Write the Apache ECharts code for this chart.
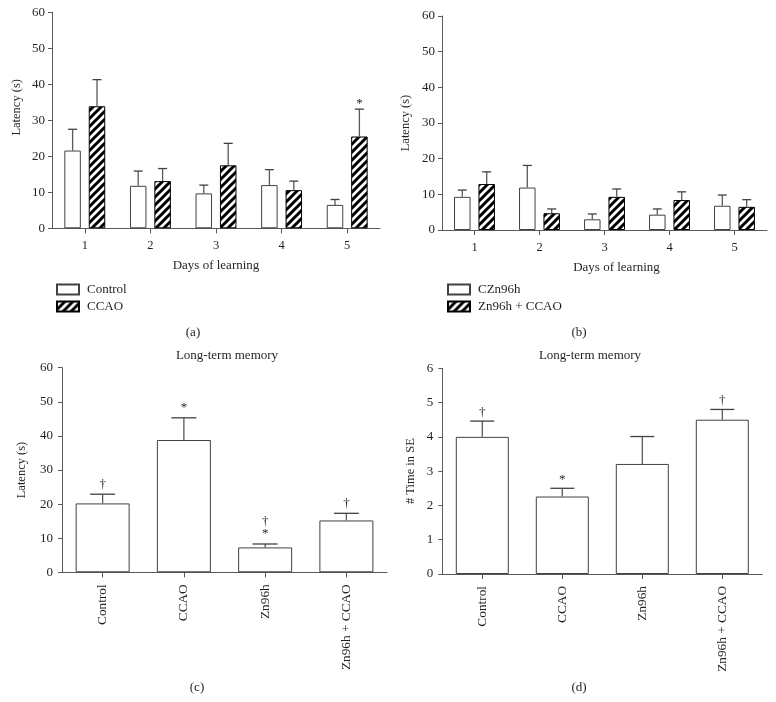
<!DOCTYPE html>
<html>
<head>
<meta charset="utf-8">
<script src="https://cdn.jsdelivr.net/npm/echarts@6/dist/echarts.min.js"></script>
<style>html,body{margin:0;padding:0;background:#fff;}#c{width:776px;height:702px;}</style>
</head>
<body>
<div id="c"></div>
<script>
// ---- data ----
const days = ['1', '2', '3', '4', '5'];
const controlA = [21.6, 11.8, 9.7, 12.0, 6.5];
const controlAErr = [5.9, 4.1, 2.3, 4.3, 1.5];
const ccaoA = [33.9, 13.1, 17.5, 10.6, 25.5];
const ccaoAErr = [7.4, 3.5, 6.1, 2.5, 7.6];
const ccaoAMarks = ['', '', '', '', '*'];

const cznB = [9.3, 11.9, 3.0, 4.3, 6.8];
const cznBErr = [1.9, 6.2, 1.5, 1.6, 3.0];
const znCcaoB = [12.9, 4.7, 9.3, 8.4, 6.5];
const znCcaoBErr = [3.4, 1.2, 2.2, 2.3, 2.0];

const groups = ['Control', 'CCAO', 'Zn96h', 'Zn96h + CCAO'];
const latencyC = [20.2, 38.8, 7.3, 15.2];
const latencyCErr = [2.7, 6.5, 1.0, 2.1];
const marksC = ['†', '*', '†\n*', '†'];
const timeD = [4.0, 2.26, 3.21, 4.5];
const timeDErr = [0.46, 0.24, 0.8, 0.3];
const marksD = ['†', '*', '', '†'];

const latencyTicks = [0, 10, 20, 30, 40, 50, 60];
const timeTicks = [0, 1, 2, 3, 4, 5, 6];

// ---- style ----
const FONT = 'Liberation Serif';
const TXT = '#231f20';
const AX = '#58595b';

function hatchCanvas() {
  const c = document.createElement('canvas');
  c.width = 8; c.height = 8;
  const g = c.getContext('2d');
  g.fillStyle = '#fff'; g.fillRect(0, 0, 8, 8);
  g.strokeStyle = '#000'; g.lineWidth = 3;
  g.beginPath();
  g.moveTo(-2, 10); g.lineTo(10, -2);
  g.moveTo(-2, 2); g.lineTo(2, -2);
  g.moveTo(6, 10); g.lineTo(10, 6);
  g.stroke();
  return c;
}
const hatch = { image: hatchCanvas(), repeat: 'repeat' };

const plainStyle = { color: '#fff', borderColor: '#414042', borderWidth: 1 };
const hatchStyle = { color: hatch, borderColor: '#000', borderWidth: 1 };

function yAxis(gi, ticks, name, nameGap, namePad, labelMargin) {
  return {
    type: 'value', gridIndex: gi, min: ticks[0], max: ticks[ticks.length - 1],
    interval: ticks[1] - ticks[0],
    name: name, nameLocation: 'middle', nameGap: nameGap,
    nameTextStyle: { fontFamily: FONT, fontSize: 12.5, color: TXT, padding: namePad || 0 },
    axisLine: { show: true, lineStyle: { color: AX, width: 1 } },
    axisTick: { show: true, length: 4, lineStyle: { color: AX } },
    splitLine: { show: false },
    axisLabel: { fontFamily: FONT, fontSize: 13, color: TXT, margin: labelMargin }
  };
}
function xAxis(gi, cats, name, rotate, namePad) {
  return {
    type: 'category', gridIndex: gi, data: cats,
    name: name, nameLocation: 'middle', nameGap: 31,
    nameTextStyle: { fontFamily: FONT, fontSize: 13, color: TXT, padding: namePad || 0 },
    axisLine: { show: true, lineStyle: { color: AX, width: 1 } },
    axisTick: { show: true, alignWithLabel: true, length: 5, lineStyle: { color: AX } },
    axisLabel: { fontFamily: FONT, fontSize: rotate ? 13.3 : 12.5, color: TXT, margin: rotate ? 12 : 11, rotate: rotate || 0 }
  };
}

function errSeries(gi, vals, errs, off, cap, marks, markGap) {
  return {
    type: 'custom', xAxisIndex: gi, yAxisIndex: gi, silent: true, z: 5,
    data: vals.map((v, i) => [i, v, errs[i]]),
    encode: { x: 0, y: 1 },
    renderItem: function (params, api) {
      const i = api.value(0), v = api.value(1), e = api.value(2);
      const a = api.coord([i, v]);
      const b = api.coord([i, v + e]);
      const x = a[0] + off;
      const children = [
        { type: 'line', shape: { x1: x, y1: a[1], x2: x, y2: b[1] }, style: { stroke: '#58595b', lineWidth: 1.3 } },
        { type: 'line', shape: { x1: x - cap, y1: b[1], x2: x + cap, y2: b[1] }, style: { stroke: '#414042', lineWidth: 1.3 } }
      ];
      const m = marks ? marks[params.dataIndex] : '';
      if (m) {
        children.push({
          type: 'text',
          style: { text: m, x: x, y: b[1] - markGap, align: 'center', verticalAlign: 'bottom',
                   font: '13px "' + FONT + '"', fill: TXT, lineHeight: 12 }
        });
      }
      return { type: 'group', children: children };
    }
  };
}

function bar(gi, name, vals, style, width, gap) {
  return {
    type: 'bar', name: name, xAxisIndex: gi, yAxisIndex: gi, data: vals,
    barWidth: width, barGap: gap, itemStyle: style, silent: true
  };
}

const textEl = (t, x, y, size) => ({
  type: 'text', x: x, y: y,
  style: { text: t, fontFamily: FONT, fontSize: size, fill: TXT, align: 'center', verticalAlign: 'middle' }
});

const legendBase = {
  orient: 'vertical', top: 283, padding: 0, itemWidth: 22, itemHeight: 10, itemGap: 4,
  icon: 'rect', selectedMode: false,
  textStyle: { fontFamily: FONT, fontSize: 13, color: TXT, padding: [0, 0, 0, 3] }
};

const option = {
  animation: false,
  backgroundColor: '#fff',
  grid: [
    { left: 52, top: 12.3, width: 328, height: 216 },
    { left: 442, top: 16, width: 325, height: 214 },
    { left: 62, top: 367.7, width: 325, height: 204.6 },
    { left: 442.3, top: 368.3, width: 320, height: 205.7 }
  ],
  xAxis: [
    xAxis(0, days, 'Days of learning'),
    xAxis(1, days, 'Days of learning', 0, [0, 0, 0, 24]),
    xAxis(2, groups, '', 90),
    xAxis(3, groups, '', 90)
  ],
  yAxis: [
    yAxis(0, latencyTicks, 'Latency (s)', 29, [0, 0, 0, 26], 7),
    yAxis(1, latencyTicks, 'Latency (s)', 30, 0, 7),
    yAxis(2, latencyTicks, 'Latency (s)', 34, 0, 9),
    yAxis(3, timeTicks, '# Time in SE', 25, 0, 9)
  ],
  legend: [
    Object.assign({}, legendBase, { data: ['Control', 'CCAO'], left: 56 }),
    Object.assign({}, legendBase, { data: ['CZn96h', 'Zn96h + CCAO'], left: 447 })
  ],
  graphic: [
    textEl('(a)', 193, 333, 13),
    textEl('(b)', 579, 333, 13),
    textEl('(c)', 197, 688, 13),
    textEl('(d)', 579, 688, 13),
    textEl('Long-term memory', 227, 356, 13),
    textEl('Long-term memory', 590, 356, 13)
  ],
  series: [
    bar(0, 'Control', controlA, plainStyle, 16.5, '48%'),
    bar(0, 'CCAO', ccaoA, hatchStyle, 16.5, '48%'),
    errSeries(0, controlA, controlAErr, -12.2, 4.5, null, 0),
    errSeries(0, ccaoA, ccaoAErr, 12.2, 4.5, ccaoAMarks, 0),
    bar(1, 'CZn96h', cznB, plainStyle, 16.5, '48%'),
    bar(1, 'Zn96h + CCAO', znCcaoB, hatchStyle, 16.5, '48%'),
    errSeries(1, cznB, cznBErr, -12.2, 4.5, null, 0),
    errSeries(1, znCcaoB, znCcaoBErr, 12.2, 4.5, null, 0),
    bar(2, 'c', latencyC, plainStyle, 54),
    errSeries(2, latencyC, latencyCErr, 0, 12.5, marksC, 4),
    bar(3, 'd', timeD, plainStyle, 53),
    errSeries(3, timeD, timeDErr, 0, 12, marksD, 3)
  ]
};

const chart = echarts.init(document.getElementById('c'), null, { renderer: 'canvas' });
chart.setOption(option);
</script>
</body>
</html>
